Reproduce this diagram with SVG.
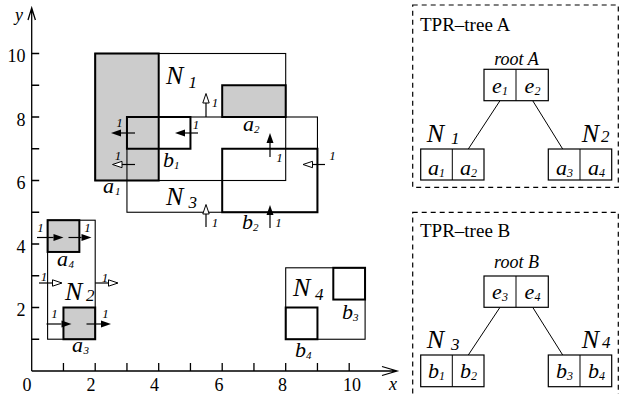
<svg xmlns="http://www.w3.org/2000/svg" width="622" height="394" viewBox="0 0 622 394" font-family="'Liberation Serif', 'DejaVu Serif', 'Times New Roman', serif">
<style>
text{font-family:'Liberation Serif','DejaVu Serif','Times New Roman',serif;fill:#000}
.num{font-size:18px}
.ne{font-size:18px;text-anchor:end}
.nm{font-size:18px;text-anchor:middle}
.v{font-size:13px;font-style:italic;text-anchor:middle}
.obj{font-size:22px;font-style:italic}
.sub{font-size:11px;font-style:italic}
.nl{font-size:26px;font-style:italic}
.ns{font-size:17px;font-style:italic}
.ttl{font-size:19px}
.root{font-size:18px;font-style:italic;text-anchor:middle}
.cl{font-size:22px;font-style:italic;text-anchor:middle}
.cs{font-size:12px}
.thin{fill:none;stroke:#000;stroke-width:1.1}
.bold{fill:none;stroke:#000;stroke-width:2}
.gray{fill:#cccccc;stroke:#000;stroke-width:2}
.axis{fill:none;stroke:#000;stroke-width:1.3}
.vel{stroke:#000;stroke-width:1.2;fill:none}
.f{marker-end:url(#hf)}
.h{marker-end:url(#hh)}
.dash{fill:none;stroke:#000;stroke-width:1.2;stroke-dasharray:5 4}
.cell{fill:#fff;stroke:#000;stroke-width:1.2}
.link{stroke:#000;stroke-width:1;fill:none}
</style>
<defs>
<marker id="hf" markerUnits="userSpaceOnUse" markerWidth="11" markerHeight="9" refX="0" refY="4" orient="auto" overflow="visible"><path d="M0,0.5 L10,4 L0,7.5 z" fill="#000"/></marker>
<marker id="hh" markerUnits="userSpaceOnUse" markerWidth="11" markerHeight="9" refX="0" refY="4" orient="auto" overflow="visible"><path d="M0,0.8 L9.5,4 L0,7.2 z" fill="#fff" stroke="#000" stroke-width="1"/></marker>
</defs>

<g id="axes">
<path class="axis" d="M31.7,371 V8 M28,20 L31.7,8 L35.4,20 M31.7,371 H397 M382,366.5 L397,371 L382,375.5"/>
<path class="axis" d="M63.45,371 v-8 M95.2,371 v-8 M126.95,371 v-8 M158.7,371 v-8 M190.45,371 v-8 M222.2,371 v-8 M253.95,371 v-8 M285.7,371 v-8 M317.45,371 v-8 M349.2,371 v-8"/>
<path class="axis" d="M31.7,339.25 h7.5 M31.7,307.5 h7.5 M31.7,275.75 h7.5 M31.7,244 h7.5 M31.7,212.25 h7.5 M31.7,180.5 h7.5 M31.7,148.75 h7.5 M31.7,117 h7.5 M31.7,85.25 h7.5 M31.7,53.5 h7.5"/>
<text class="ne" x="25.5" y="62">10</text>
<text class="ne" x="25.5" y="125.5">8</text>
<text class="ne" x="25.5" y="189">6</text>
<text class="ne" x="25.5" y="252.5">4</text>
<text class="ne" x="25.5" y="316">2</text>
<text class="nm" x="27" y="391">0</text>
<text class="nm" x="91" y="391">2</text>
<text class="nm" x="154.5" y="391">4</text>
<text class="nm" x="219" y="391">6</text>
<text class="nm" x="282.5" y="391">8</text>
<text class="nm" x="352" y="391">10</text>
<text class="num" x="389" y="390" font-style="italic">x</text>
<text class="num" x="15" y="21" font-style="italic">y</text>
</g>

<g id="a1"><rect class="gray" x="95.2" y="53.5" width="63.5" height="127"/>
<text class="obj" x="103" y="193">a</text><text class="sub" x="115" y="195">1</text></g>
<g id="a2"><rect class="gray" x="222.2" y="85.25" width="63.5" height="31.75"/>
<text class="obj" x="243" y="131">a</text><text class="sub" x="254" y="133">2</text></g>
<g id="a4"><rect class="gray" x="47.6" y="220.2" width="31.75" height="31.75"/>
<text class="obj" x="57" y="266">a</text><text class="sub" x="68.5" y="268">4</text></g>
<g id="a3"><rect class="gray" x="63.45" y="307.5" width="31.75" height="31.75"/>
<text class="obj" x="72" y="352">a</text><text class="sub" x="83.5" y="354">3</text></g>

<g id="N1"><rect class="thin" x="95.2" y="53.5" width="190.5" height="127"/>
<text class="nl" x="166" y="84">N</text><text class="ns" x="188.5" y="88">1</text></g>
<g id="N3"><rect class="thin" x="126.95" y="117" width="190.5" height="95.25"/>
<text class="nl" x="166" y="204.5">N</text><text class="ns" x="188.5" y="208">3</text></g>
<g id="N2"><rect class="thin" x="47.6" y="220.2" width="47.6" height="119"/>
<text class="nl" x="65" y="300" font-size="28">N</text><text class="ns" x="86" y="301" font-size="19">2</text></g>
<g id="N4"><rect class="thin" x="285.7" y="267.8" width="79.4" height="71.45"/>
<text class="nl" x="293" y="296">N</text><text class="ns" x="315" y="299.5">4</text></g>

<g id="b1"><rect class="bold" x="126.95" y="117" width="63.5" height="31.75"/>
<text class="obj" x="163" y="167">b</text><text class="sub" x="174" y="169">1</text></g>
<g id="b2"><rect class="bold" x="222.2" y="148.75" width="95.25" height="63.5"/>
<text class="obj" x="242" y="229">b</text><text class="sub" x="253" y="231">2</text></g>
<g id="b3"><rect class="bold" x="333.3" y="267.8" width="31.75" height="31.75"/>
<text class="obj" x="342" y="319">b</text><text class="sub" x="353" y="321">3</text></g>
<g id="b4"><rect class="bold" x="285.7" y="307.5" width="31.75" height="31.75"/>
<text class="obj" x="295" y="357">b</text><text class="sub" x="306" y="359">4</text></g>

<g id="velocities">
<path class="vel f" d="M135,133 H121"/><text class="v" x="119.5" y="127">1</text>
<path class="vel f" d="M198,133 H185"/><text class="v" x="196" y="129">1</text>
<path class="vel h" d="M135,164.5 H122"/><text class="v" x="118" y="160">1</text>
<path class="vel h" d="M206,117 V103"/><text class="v" x="215" y="107">1</text>
<path class="vel f" d="M270,157 V143"/><text class="v" x="279.5" y="162">1</text>
<path class="vel h" d="M325,164.5 H312.5"/><text class="v" x="332.5" y="160">1</text>
<path class="vel h" d="M206,227 V214"/><text class="v" x="215" y="227">1</text>
<path class="vel f" d="M270,228 V215"/><text class="v" x="278.5" y="227">1</text>
<path class="vel f" d="M37,237.5 H53.5"/><text class="v" x="40.5" y="232">1</text>
<path class="vel f" d="M68.5,237.5 H81.5"/><text class="v" x="87.5" y="232">1</text>
<path class="vel h" d="M39,283 H52.5"/><text class="v" x="44" y="281">1</text>
<path class="vel h" d="M95.2,283 H108.5"/><text class="v" x="105" y="282">1</text>
<path class="vel f" d="M46.5,324 H61.5"/><text class="v" x="54.5" y="318">1</text>
<path class="vel f" d="M86.5,324 H101"/><text class="v" x="105.5" y="318">1</text>
</g>

<g id="panelA">
<rect class="dash" x="412.7" y="5" width="205.6" height="182.3"/>
<text class="ttl" x="420" y="30.5">TPR–tree A</text>
</g>
<g id="panelB">
<rect class="dash" x="412.7" y="212.3" width="205.6" height="200"/>
<text class="ttl" x="420" y="236.5">TPR–tree B</text>
</g>

<g id="connectors">
<path class="link" d="M500,100.7 L468.3,149 M532.7,100.7 L562.7,149 M500,307.3 L468.3,355 M532.7,307.3 L562.7,355"/>
</g>

<g id="rootA">
<text class="root" x="516.5" y="65">root A</text>
<rect class="cell" x="484" y="69.3" width="64.3" height="31.4"/><path class="link" d="M516,69.3 V100.7"/>
<text class="cl" x="500" y="93">e<tspan class="cs" dy="2">1</tspan></text>
<text class="cl" x="532.5" y="93">e<tspan class="cs" dy="2">2</tspan></text>
</g>
<g id="treeN1">
<text class="nl" x="426.7" y="141.7">N</text><text class="ns" x="451" y="143.5">1</text>
<rect class="cell" x="420.7" y="149" width="63.3" height="31"/><path class="link" d="M452.3,149 V180"/>
<text class="cl" x="436.5" y="175">a<tspan class="cs" dy="2">1</tspan></text>
<text class="cl" x="468.5" y="175">a<tspan class="cs" dy="2">2</tspan></text>
</g>
<g id="treeN2">
<text class="nl" x="581.7" y="141.7">N</text><text class="ns" x="601" y="141.7" font-size="21">2</text>
<rect class="cell" x="548.3" y="149" width="63.4" height="31"/><path class="link" d="M580,149 V180"/>
<text class="cl" x="564.5" y="175">a<tspan class="cs" dy="2">3</tspan></text>
<text class="cl" x="596.5" y="175">a<tspan class="cs" dy="2">4</tspan></text>
</g>
<g id="rootB">
<text class="root" x="516.5" y="268">root B</text>
<rect class="cell" x="484" y="276" width="64.3" height="31.3"/><path class="link" d="M516,276 V307.3"/>
<text class="cl" x="500" y="298.5">e<tspan class="cs" dy="2">3</tspan></text>
<text class="cl" x="532.5" y="298.5">e<tspan class="cs" dy="2">4</tspan></text>
</g>
<g id="treeN3">
<text class="nl" x="426.7" y="348.3">N</text><text class="ns" x="451" y="350" font-size="19">3</text>
<rect class="cell" x="420.7" y="355" width="63.3" height="31.7"/><path class="link" d="M452.3,355 V386.7"/>
<text class="cl" x="436.5" y="377.5">b<tspan class="cs" dy="2">1</tspan></text>
<text class="cl" x="468.5" y="377.5">b<tspan class="cs" dy="2">2</tspan></text>
</g>
<g id="treeN4">
<text class="nl" x="581.7" y="348.3">N</text><text class="ns" x="602" y="348.3">4</text>
<rect class="cell" x="548.3" y="355" width="63.4" height="31.7"/><path class="link" d="M580,355 V386.7"/>
<text class="cl" x="564.5" y="377.5">b<tspan class="cs" dy="2">3</tspan></text>
<text class="cl" x="596.5" y="377.5">b<tspan class="cs" dy="2">4</tspan></text>
</g>
</svg>
